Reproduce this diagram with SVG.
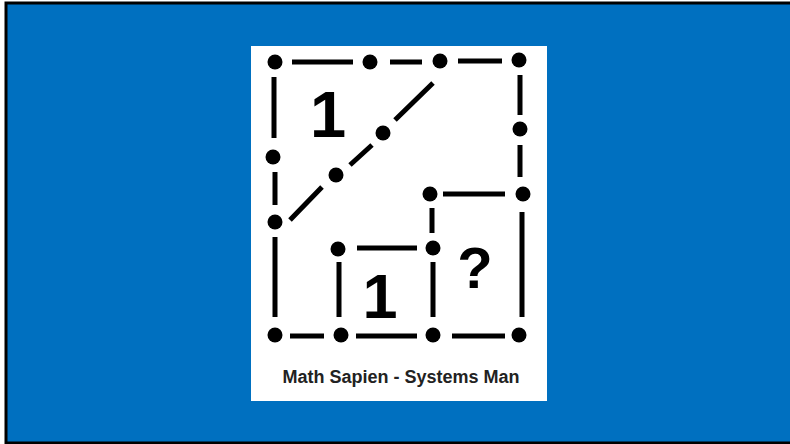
<svg xmlns="http://www.w3.org/2000/svg" width="790" height="444" viewBox="0 0 790 444">
<style>
.seg{stroke:#000;stroke-width:5;stroke-linecap:butt;fill:none}
.dot{fill:#000}
.big{font-family:"Liberation Sans",Arial,sans-serif;font-weight:bold;fill:#000;text-anchor:middle}
.cap{font-family:"Liberation Sans",Arial,sans-serif;font-weight:bold;font-size:18px;fill:#222;text-anchor:middle}
</style>
<rect x="0" y="0" width="790" height="444" fill="#fff"/>
<rect x="6" y="3" width="800" height="440" fill="#0070C0" stroke="#000" stroke-width="3"/>
<rect x="251" y="46" width="296" height="355" fill="#fff"/>
<g id="connectors">
<path class="seg" d="M292 62H353M390 62H422M458 61H502"/>
<path class="seg" d="M274 77V138M275 172V205M275 237V317"/>
<path class="seg" d="M520 75V115M520 145V177M522 212V317"/>
<path class="seg" d="M290 220L322 187M350 165L372 145M395 120L433 83"/>
<path class="seg" d="M443 194H505M432 208V233"/>
<path class="seg" d="M357 248H417M339 262V317M433 262V317"/>
<path class="seg" d="M290 336H324M356 336H417M452 336H505"/>
</g>
<g id="dots">
<circle class="dot" cx="275" cy="62" r="7.5"/>
<circle class="dot" cx="370" cy="62" r="7.5"/>
<circle class="dot" cx="440" cy="61" r="7.5"/>
<circle class="dot" cx="519" cy="60" r="7.5"/>
<circle class="dot" cx="520" cy="129" r="7.5"/>
<circle class="dot" cx="273" cy="157" r="7.5"/>
<circle class="dot" cx="275" cy="222" r="7.5"/>
<circle class="dot" cx="383" cy="133" r="7.5"/>
<circle class="dot" cx="336" cy="175" r="7.5"/>
<circle class="dot" cx="430" cy="194" r="7.5"/>
<circle class="dot" cx="523" cy="194" r="7.5"/>
<circle class="dot" cx="338" cy="249" r="7.5"/>
<circle class="dot" cx="433" cy="248" r="7.5"/>
<circle class="dot" cx="275" cy="335" r="7.5"/>
<circle class="dot" cx="341" cy="335" r="7.5"/>
<circle class="dot" cx="433" cy="335" r="7.5"/>
<circle class="dot" cx="519" cy="335" r="7.5"/>
</g>
<g id="labels">
<text class="big" x="328" y="137" font-size="65">1</text>
<text class="big" x="380" y="318" font-size="63">1</text>
<text class="big" x="475" y="288" font-size="58">?</text>
<text class="cap" x="401" y="383">Math Sapien - Systems Man</text>
</g>
</svg>
